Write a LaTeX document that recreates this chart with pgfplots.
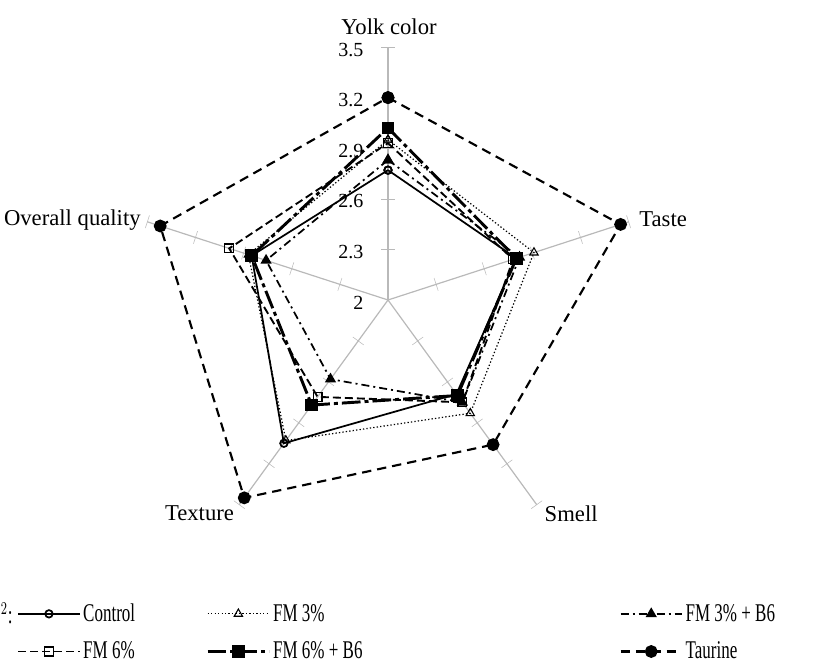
\documentclass[border=0pt]{standalone}
\usepackage{fontspec}
\setmainfont{Liberation Serif}
\usepackage{pgfplots}
\usepackage{pgfplotstable}
\usepgfplotslibrary{polar}
\pgfplotsset{compat=1.18}

% sensory scores per attribute (angle of spoke, then one column per diet)
\pgfplotstableread{
ang   ctrl  fmt   fmtb  fms   fmsb  tau
90    2.77  2.95  2.83  2.93  3.02  3.20
18    2.80  2.91  2.82  2.78  2.80  3.45
-54   2.69  2.83  2.75  2.75  2.70  3.06
-126  3.05  3.03  2.58  2.71  2.77  3.45
162   2.85  2.87  2.76  2.99  2.85  3.42
90    2.77  2.95  2.83  2.93  3.02  3.20
}\sensory

\newcommand{\catfont}{\fontsize{17pt}{20pt}\selectfont}
\newcommand{\tickfont}{\fontsize{15pt}{18pt}\selectfont}
\newcommand{\legtext}[2][\width]{\makebox[#1][l]{\scalebox{1}[1.5]{#2}}}

\begin{document}
\begin{tikzpicture}
\path[use as bounding box] (0,0) rectangle (615.75pt,500.25pt);

\begin{polaraxis}[
    at={(291pt,275.25pt)}, anchor=origin,
    width=379.5pt, height=379.5pt, scale only axis,
    hide axis, clip=false,
    xmin=0, xmax=360, ymin=0, ymax=1.5,
    spoke/.style={gray!55, line width=0.9pt, forget plot},
    tk/.style={only marks, mark=|, mark size=5pt, gray!55, forget plot},
    legend style={
        at={(-0.233,-0.095)}, anchor=north west,
        draw=none, fill=none, inner sep=0pt,
        legend columns=3, row sep=9.75pt,
        font=\fontsize{12.75pt}{15pt}\selectfont,
        legend cell align=left,
    },
    legend image code/.code={
        \draw[mark repeat=2, mark phase=2, #1]
            plot coordinates {(0pt,0pt) (23pt,0pt) (46pt,0pt)};
    },
]
% spokes and their ticks
\addplot[spoke] coordinates {(90,0) (90,1.5)};
\addplot[spoke] coordinates {(18,0) (18,1.5)};
\addplot[spoke] coordinates {(-54,0) (-54,1.5)};
\addplot[spoke] coordinates {(-126,0) (-126,1.5)};
\addplot[spoke] coordinates {(162,0) (162,1.5)};
\addplot[tk, mark options={rotate=90}] coordinates {(90,0.3) (90,0.6) (90,0.9) (90,1.2) (90,1.5)};
\addplot[tk, mark options={rotate=18}] coordinates {(18,0.3) (18,0.6) (18,0.9) (18,1.2) (18,1.5)};
\addplot[tk, mark options={rotate=-54}] coordinates {(-54,0.3) (-54,0.6) (-54,0.9) (-54,1.2) (-54,1.5)};
\addplot[tk, mark options={rotate=-126}] coordinates {(-126,0.3) (-126,0.6) (-126,0.9) (-126,1.2) (-126,1.5)};
\addplot[tk, mark options={rotate=162}] coordinates {(162,0.3) (162,0.6) (162,0.9) (162,1.2) (162,1.5)};

% the six diets
\addplot[black, line width=1.3pt, mark=o, mark size=2.8pt, mark options={solid}]
    table[x=ang, y expr=\thisrow{ctrl}-2] {\sensory};
\addlegendentry{\legtext[90.25pt]{Control}}
\addplot[black, line width=0.9pt, dash pattern=on 1pt off 1.6pt, mark=triangle, mark size=3.6pt, mark options={solid, line width=0.8pt}]
    table[x=ang, y expr=\thisrow{fmt}-2] {\sensory};
\addlegendentry{\legtext[257.75pt]{FM 3\%}}
\addplot[black, line width=1.3pt, dash pattern=on 6pt off 3pt on 1.5pt off 3pt, mark=triangle*, mark size=3.6pt, mark options={solid}]
    table[x=ang, y expr=\thisrow{fmtb}-2] {\sensory};
\addlegendentry{\legtext{FM 3\% + B6}}
\addplot[black, line width=1.4pt, dash pattern=on 6pt off 3pt, mark=square, mark size=3.3pt, mark options={solid, line width=1pt}]
    table[x=ang, y expr=\thisrow{fms}-2] {\sensory};
\addlegendentry{\legtext[90.25pt]{FM 6\%}}
\addplot[black, line width=2.2pt, dash pattern=on 14pt off 3pt on 3pt off 3pt, mark=square*, mark size=3.6pt, mark options={solid}]
    table[x=ang, y expr=\thisrow{fmsb}-2] {\sensory};
\addlegendentry{\legtext[257.75pt]{FM 6\% + B6}}
\addplot[black, line width=1.6pt, dash pattern=on 7pt off 4.5pt, mark=*, mark size=4pt, mark options={solid}]
    table[x=ang, y expr=\thisrow{tau}-2] {\sensory};
\addlegendentry{\legtext{Taurine}}

% radial scale on the top spoke
\foreach \v/\r in {2/0, 2.3/0.3, 2.6/0.6, 2.9/0.9, 3.2/1.2, 3.5/1.5}{
    \edef\tmp{\noexpand\node[anchor=east, font=\noexpand\tickfont, xshift=-15pt, yshift=-2pt]
        at (axis cs:90,\r) {\v};}
    \tmp
}
\end{polaraxis}

% attribute names
\node[font=\catfont] at (291.75pt,480pt) {Yolk color};
\node[font=\catfont, anchor=west] at (476pt,336pt) {Taste};
\node[font=\catfont, anchor=west] at (405pt,115pt) {Smell};
\node[font=\catfont, anchor=east] at (179pt,115pt) {Texture};
\node[font=\catfont, anchor=east] at (109pt,335pt) {Overall quality};
\node[font=\fontsize{12.75pt}{15pt}\selectfont, anchor=west, inner sep=0.5pt] at (0pt,40pt) {\scalebox{1}[1.5]{$^{2}$:}};
\end{tikzpicture}
\end{document}
